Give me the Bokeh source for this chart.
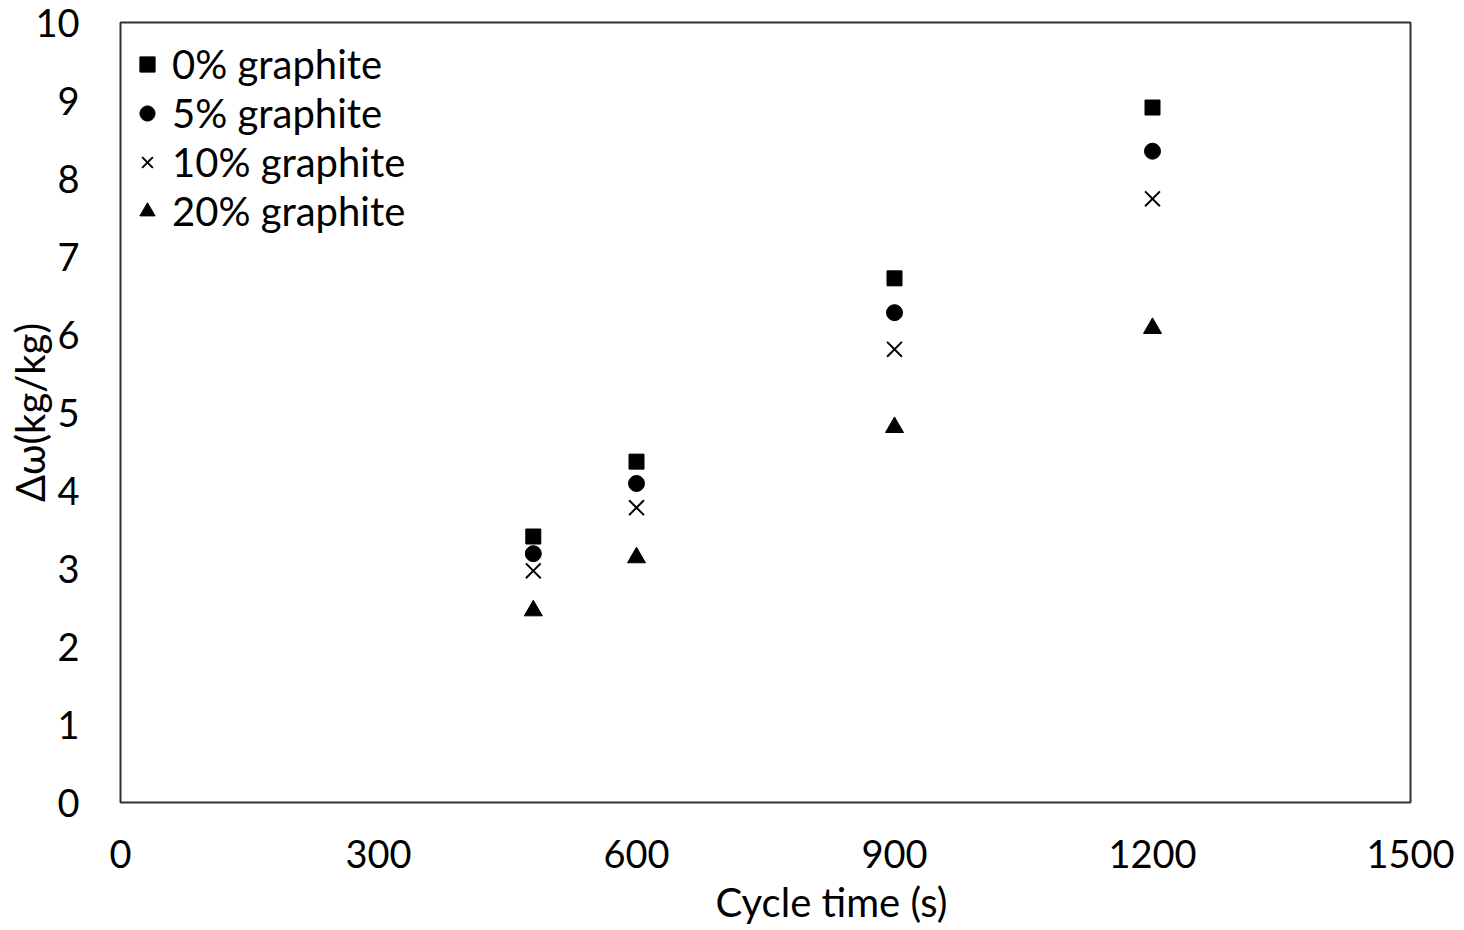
from bokeh.plotting import figure
from bokeh.models import Range1d, FixedTicker, Legend, LegendItem, Title
from bokeh.embed import file_html
from bokeh.resources import INLINE

cycle_time = [480, 600, 900, 1200]
g0 = [3.41, 4.37, 6.72, 8.91]
g5 = [3.19, 4.09, 6.28, 8.35]
g10 = [2.97, 3.78, 5.81, 7.74]
g20 = [2.46, 3.14, 4.81, 6.08]
labels = ["0% graphite", "5% graphite", "10% graphite", "20% graphite"]
x_ticks = [0, 300, 600, 900, 1200, 1500]
y_ticks = list(range(0, 11))
x_title = "Cycle time (s)"
y_title = "Δω(kg/kg)"

FONT = "Lato"
FS = "38px"
FS2 = "40px"

p = figure(frame_width=1290, frame_height=780, output_backend="svg", toolbar_location=None,
           x_range=Range1d(0, 1500), y_range=Range1d(0, 10),
           min_border_left=120, min_border_right=54, min_border_top=22, min_border_bottom=100)
p.background_fill_color = "white"
p.border_fill_color = "white"
p.outline_line_color = "#303030"
p.outline_line_width = 2
p.grid.visible = False

for ax in (p.xaxis[0], p.yaxis[0]):
    ax.axis_line_color = None
    ax.major_tick_line_color = None
    ax.minor_tick_line_color = None
    ax.major_label_text_font = FONT
    ax.major_label_text_font_size = FS
    ax.major_label_text_color = "black"
    ax.axis_label_text_font = FONT
    ax.axis_label_text_font_size = FS2
    ax.axis_label_text_font_style = "normal"
    ax.axis_label_text_color = "black"

p.xaxis.ticker = FixedTicker(ticks=x_ticks)
p.yaxis.ticker = FixedTicker(ticks=y_ticks)
p.xaxis.major_label_standoff = 31
p.yaxis.major_label_standoff = 35
p.yaxis.axis_label = y_title
p.yaxis.axis_label_standoff = -22

# x title offset to the right as in the reference
xt = Title(text=x_title, align="left", offset=595, standoff=10,
           text_font=FONT, text_font_size=FS2, text_font_style="normal", text_color="black")
p.add_layout(xt, "below")

r0 = p.scatter(cycle_time, g0, marker="square", size=15, color="black")
r1 = p.scatter(cycle_time, g5, marker="circle", size=16, color="black")
r2 = p.scatter(cycle_time, g10, marker="x", size=21, line_color="black", line_width=2)
r3 = p.scatter(cycle_time, g20, marker="triangle", size=18, color="black")

legend = Legend(items=[LegendItem(label=l, renderers=[r]) for l, r in zip(labels, [r0, r1, r2, r3])],
                location=(8, 567))
legend.label_text_font = FONT
legend.label_text_font_size = FS2
legend.label_text_color = "black"
legend.border_line_color = None
legend.background_fill_alpha = 0
legend.glyph_width = 38
legend.glyph_height = 38
legend.label_height = 40
legend.spacing = 1
legend.label_standoff = 6
legend.padding = 8
legend.margin = 0
p.add_layout(legend)

open("out.html", "w").write(file_html(p, INLINE))
